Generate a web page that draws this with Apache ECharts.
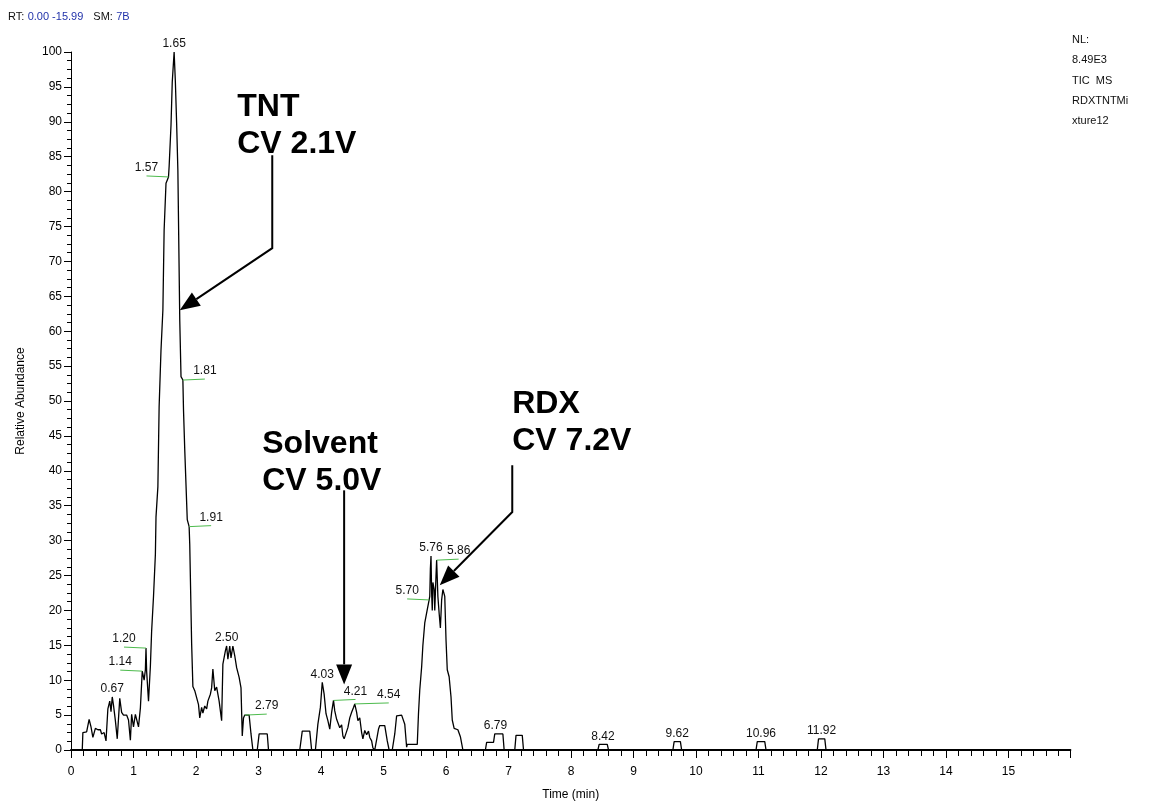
<!DOCTYPE html>
<html>
<head>
<meta charset="utf-8">
<script src="https://cdn.jsdelivr.net/npm/echarts@6/dist/echarts.min.js"></script>
<style>
html,body{margin:0;padding:0;background:#fff;}
#chart{width:1153px;height:803px;}
</style>
</head>
<body>
<div id="chart"></div>
<script>
// ---- chromatogram trace (time in min, relative abundance %) ----
const traceTime = [
 0,0.18,0.19,0.25,0.29,0.32,0.35,0.39,0.43,0.47,0.49,0.53,0.56,0.59,0.62,0.64,0.66,0.68,0.71,0.74,
 0.78,0.81,0.84,0.89,0.92,0.95,0.97,1.00,1.03,1.06,1.08,1.11,1.14,1.17,1.19,1.20,1.21,1.24,1.27,1.29,
 1.32,1.35,1.36,1.39,1.41,1.44,1.47,1.49,1.52,1.56,1.57,1.60,1.62,1.65,1.67,1.69,1.71,1.74,1.76,1.79,
 1.80,1.82,1.86,1.89,1.90,1.93,1.95,1.98,2.01,2.04,2.06,2.09,2.11,2.14,2.17,2.19,2.23,2.25,2.27,2.30,
 2.33,2.37,2.41,2.43,2.47,2.49,2.51,2.54,2.56,2.59,2.62,2.65,2.69,2.72,2.74,2.76,2.78,2.85,2.88,2.91,
 2.98,3.01,3.14,3.16,3.66,3.70,3.82,3.85,3.91,3.95,3.99,4.02,4.05,4.08,4.11,4.14,4.17,4.20,4.22,4.25,
 4.28,4.30,4.33,4.35,4.37,4.40,4.43,4.46,4.49,4.52,4.54,4.57,4.59,4.62,4.65,4.67,4.70,4.73,4.76,4.78,
 4.81,4.83,4.86,4.89,4.92,4.94,5.02,5.06,5.09,5.14,5.18,5.21,5.29,5.34,5.37,5.38,5.54,5.56,5.58,5.61,
 5.63,5.66,5.70,5.73,5.74,5.75,5.76,5.77,5.78,5.79,5.81,5.82,5.84,5.85,5.87,5.89,5.91,5.93,5.95,5.98,
 6.00,6.02,6.05,6.08,6.10,6.13,6.19,6.23,6.27,6.63,6.65,6.76,6.78,6.91,6.93,7.10,7.12,7.22,7.24,8.43,
 8.45,8.58,8.60,9.63,9.65,9.75,9.77,10.96,10.98,11.10,11.12,11.94,11.96,12.06,12.08,15.99
];
const traceAbundance = [
 0,0,2.5,2.6,4.4,3.3,1.8,3.1,2.9,2.9,2.3,2.5,1.3,5.9,7.0,5.5,7.6,6.4,4.2,1.6,
 7.4,5.4,5.0,5.0,4.3,1.4,5.1,3.3,5.1,5.1,3.3,6.0,11.3,10.0,11.5,14.6,11.3,7.0,12.0,17.0,
 22.0,28.0,33.4,37.7,49.2,57.3,63.0,74.5,81.2,82.1,83.6,89.5,95.7,100,95.7,89.8,83.0,61.6,53.5,53.0,
 48.7,43.0,33.0,32.0,29.4,15.3,9.1,8.5,7.5,6.5,4.6,6.1,5.3,6.3,5.9,7.0,8.0,8.9,11.6,8.5,
 9.0,7.0,4.2,12.3,14.2,14.9,13.0,14.9,13.2,14.9,13.5,11.8,10.4,8.9,2.0,4.6,5.0,5.0,2.3,0,
 0,2.3,2.3,0,0,2.7,2.7,0,0,3.7,6.1,9.7,8.0,5.2,4.2,3.0,5.4,7.1,5.6,4.4,
 4.6,3.2,3.6,2.0,1.6,1.8,3.2,4.6,5.4,6.1,6.6,5.4,4.2,4.6,2.5,1.6,2.8,2.2,2.7,1.8,
 1.3,0.3,0,1.5,3.0,3.5,3.5,1.3,0,0,2.3,4.9,5.0,3.7,0.4,0.8,0.8,5.3,8.6,11.9,
 15.0,18.2,20.1,21.5,22.0,26.0,27.8,22.5,20.0,24.0,23.0,20.0,25.0,27.2,22.0,19.6,17.5,21.5,23.0,22.0,
 15.8,11.5,10.5,7.6,4.3,3.1,2.9,1.9,0,0,1.1,1.1,2.3,2.3,0,0,2.1,2.1,0,0,
 0.8,0.8,0,0,1.2,1.2,0,0,1.2,1.2,0,0,1.6,1.6,0,0
];

// ---- peak labels ----
const peakLabel = ['0.67','1.14','1.20','1.57','1.65','1.81','1.91','2.50','2.79','4.03','4.21','4.54','5.70','5.76','5.86','6.79','8.42','9.62','10.96','11.92'];
const peakTime  = [0.66,1.14,1.20,1.56,1.65,1.79,1.89,2.49,2.78,4.02,4.20,4.54,5.73,5.76,5.85,6.79,8.51,9.70,11.04,12.01];
const peakLevel = [7.6,11.3,14.6,82.1,100,53.0,32.0,14.9,5.0,9.7,7.1,6.6,21.5,27.8,27.2,2.3,0.8,1.2,1.2,1.6];
const peakSide  = ['T','L','L','L','T','R','R','T','R','T','R','R','L','T','R','T','T','T','T','T'];

// ---- axis ticks ----
const xTickLabels = ['0','1','2','3','4','5','6','7','8','9','10','11','12','13','14','15'];
const yTickLabels = ['0','5','10','15','20','25','30','35','40','45','50','55','60','65','70','75','80','85','90','95','100'];

// ---- annotations (compound callouts) ----
const noteLines = [['TNT','CV 2.1V'],['Solvent','CV 5.0V'],['RDX','CV 7.2V']];
const noteTime  = [2.66, 3.06, 7.06];
const noteLevel = [94.8, 46.4, 52.2];
const arrowTimes  = [[3.22,3.22,1.74],[4.37,4.37],[7.06,7.06,5.90]];
const arrowLevels = [[85.2,71.9,63.0],[37.2,9.4],[40.8,34.1,23.6]];

const headerRT = '0.00 -15.99';
const headerSM = '7B';
const infoLines = ['NL:','8.49E3','TIC  MS','RDXTNTMi','xture12'];

const FONT = 'Arial, "Liberation Sans", sans-serif';
const traceData = traceTime.map((t,i)=>[t, traceAbundance[i]]);

const chart = echarts.init(document.getElementById('chart'), null, {renderer:'canvas'});

function renderPeak(params, api){
  const i = params.dataIndex;
  const p = api.coord([api.value(0), api.value(1)]);
  const side = peakSide[i];
  const children = [];
  let tx = p[0], ty = p[1] - 2;
  if (side !== 'T'){
    const len = (peakLabel[i] === '4.54') ? 34 : 22;
    const dx = side === 'L' ? -len : len;
    children.push({type:'line', shape:{x1:p[0], y1:p[1], x2:p[0]+dx, y2:p[1]-1},
      style:{stroke:'#4dbb4d', lineWidth:1}});
    tx = p[0] + dx; ty = p[1] - 3;
  }
  children.push({type:'text', x:tx, y:ty,
    style:{text:peakLabel[i], align:'center', verticalAlign:'bottom', font:'12px '+FONT, fill:'#111'}});
  return {type:'group', children};
}

function renderArrow(params, api){
  const i = params.dataIndex;
  const pts = arrowTimes[i].map((t,k)=>api.coord([t, arrowLevels[i][k]]));
  const n = pts.length;
  const a = pts[n-2], b = pts[n-1];
  const dx = b[0]-a[0], dy = b[1]-a[1];
  const L = Math.sqrt(dx*dx+dy*dy);
  const ux = dx/L, uy = dy/L;
  const HL = 20, HW = 8;
  const base = [b[0]-ux*HL, b[1]-uy*HL];
  const linePts = pts.slice(0, n-1).concat([base]);
  return {type:'group', children:[
    {type:'polyline', shape:{points:linePts}, style:{stroke:'#000', lineWidth:2, fill:null}},
    {type:'polygon', shape:{points:[b, [base[0]-uy*HW, base[1]+ux*HW], [base[0]+uy*HW, base[1]-ux*HW]]},
      style:{fill:'#000'}}
  ]};
}

function renderNote(params, api){
  const i = params.dataIndex;
  const p = api.coord([api.value(0), api.value(1)]);
  return {type:'text', x:p[0], y:p[1],
    style:{text:noteLines[i].join('\n'), align:'left', verticalAlign:'top',
      font:'bold 32px '+FONT, lineHeight:37, fill:'#000'}};
}

const option = {
  animation:false,
  backgroundColor:'#fff',
  grid:{left:71, right:82.6, top:52, bottom:53, containLabel:false, outerBoundsMode:'none'},
  xAxis:{
    type:'value', min:0, max:15.99, interval:1,
    name:'Time (min)', nameLocation:'middle', nameGap:39,
    nameTextStyle:{fontFamily:FONT, fontSize:12, color:'#000'},
    axisLine:{show:true, lineStyle:{color:'#000', width:2}},
    axisTick:{show:true, length:8, lineStyle:{color:'#000', width:1}},
    minorTick:{show:true, splitNumber:5, length:6, lineStyle:{color:'#000', width:1}},
    splitLine:{show:false},
    axisLabel:{fontFamily:FONT, fontSize:12, color:'#000', margin:16, showMaxLabel:false,
      formatter:(v)=>{const k=Math.round(v); return (Math.abs(v-k)<1e-6 && k<xTickLabels.length)? xTickLabels[k] : '';}}
  },
  yAxis:{
    type:'value', min:0, max:100, interval:5,
    name:'Relative Abundance', nameLocation:'middle', nameGap:44, nameRotate:90,
    nameTextStyle:{fontFamily:FONT, fontSize:12, color:'#000'},
    axisLine:{show:true, lineStyle:{color:'#000', width:1}},
    axisTick:{show:true, length:7, lineStyle:{color:'#000', width:1}},
    minorTick:{show:true, splitNumber:4, length:4, lineStyle:{color:'#000', width:1}},
    splitLine:{show:false},
    axisLabel:{fontFamily:FONT, fontSize:12, color:'#000', margin:9,
      formatter:(v)=>{const k=Math.round(v/5); return yTickLabels[k]||'';}}
  },
  graphic:[
    {type:'text', left:8, top:11, style:{
      text:'{k|RT:} {b|'+headerRT+'}   {k|SM:} {b|'+headerSM+'}',
      rich:{k:{fontFamily:FONT, fontSize:11, fill:'#111'}, b:{fontFamily:FONT, fontSize:11, fill:'#2233aa'}}
    }},
    {type:'text', left:1072, top:30, style:{
      text:infoLines.join('\n'), fontFamily:FONT, fontSize:11, lineHeight:20.3, fill:'#111'
    }}
  ],
  series:[
    {type:'line', data:traceData, symbol:'none', smooth:false,
      lineStyle:{color:'#000', width:1.3}, z:3},
    {type:'custom', renderItem:renderPeak, clip:false, z:4,
      data:peakTime.map((t,i)=>[t, peakLevel[i]])},
    {type:'custom', renderItem:renderArrow, clip:false, z:5,
      data:arrowTimes.map((a,i)=>[a[0], arrowLevels[i][0]])},
    {type:'custom', renderItem:renderNote, clip:false, z:5,
      data:noteTime.map((t,i)=>[t, noteLevel[i]])}
  ]
};
chart.setOption(option);
</script>
</body>
</html>
